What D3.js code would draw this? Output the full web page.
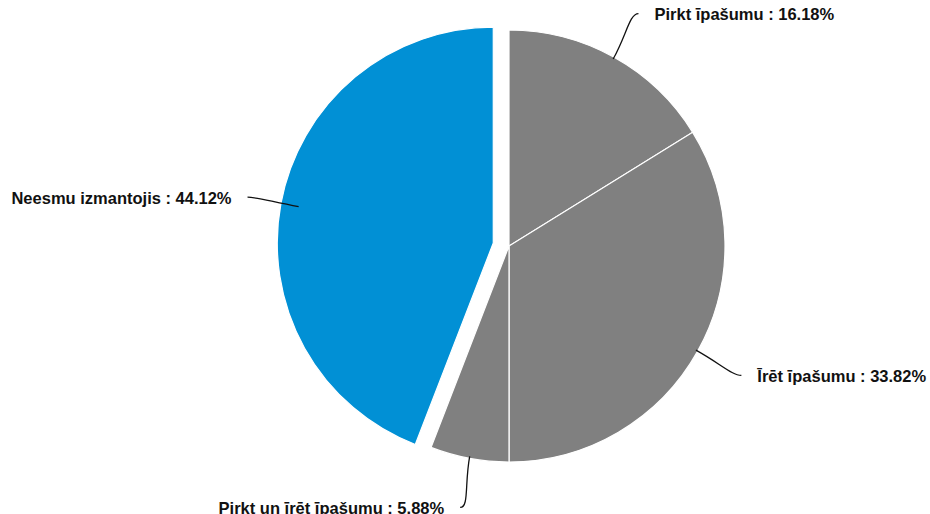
<!DOCTYPE html>
<html>
<head>
<meta charset="utf-8">
<script src="https://cdn.jsdelivr.net/npm/d3@7"></script>
<style>
  html, body { margin: 0; padding: 0; background: #fff; }
  svg { display: block; }
  .lbl { font-family: "Liberation Sans", Arial, sans-serif; font-weight: bold; font-size: 16.5px; fill: #111; }
</style>
</head>
<body>
<svg id="chart" width="930" height="514"></svg>
<script>
const categories = ["Pirkt īpašumu", "Īrēt īpašumu", "Pirkt un īrēt īpašumu", "Neesmu izmantojis"];
const shares = [16.18, 33.82, 5.88, 44.12];
const colors = ["#808080", "#808080", "#808080", "#0190d5"];
const exploded = [false, false, false, true];

const W = 930, H = 514;
const cx = 509, cy = 246, R = 216;
const explodeBy = 16;

const svg = d3.select("#chart");
const g = svg.append("g").attr("transform", `translate(${cx},${cy})`);

const data = categories.map((c, i) => ({ name: c, value: shares[i], color: colors[i], out: exploded[i] }));

const pie = d3.pie().value(d => d.value).sort(null);
const arcs = pie(data);
const arc = d3.arc().innerRadius(0).outerRadius(R);

// polar helper: angle measured clockwise from 12 o'clock
const pt = (a, r) => [Math.sin(a) * r, -Math.cos(a) * r];

g.selectAll("path.slice")
  .data(arcs)
  .join("path")
  .attr("class", "slice")
  .attr("d", arc)
  .attr("fill", d => d.data.color)
  .attr("stroke", "#fff")
  .attr("stroke-width", 1.2)
  .attr("transform", d => {
    if (!d.data.out) return null;
    const m = (d.startAngle + d.endAngle) / 2;
    const [dx, dy] = pt(m, explodeBy);
    return `translate(${dx},${dy})`;
  });

// leader lines and labels
const gap = 16;
arcs.forEach(d => {
  const m = (d.startAngle + d.endAngle) / 2;
  const side = Math.sin(m) >= 0 ? 1 : -1;
  const p0 = pt(m, R - 2);
  const c1 = pt(m, R + 26);
  const p2 = pt(m, 266);
  const c2 = [p2[0] - side * 9, p2[1]];
  const path = d3.path();
  path.moveTo(p0[0], p0[1]);
  path.bezierCurveTo(c1[0], c1[1], c2[0], c2[1], p2[0], p2[1]);
  g.append("path")
    .attr("d", path.toString())
    .attr("fill", "none")
    .attr("stroke", "#111")
    .attr("stroke-width", 1.3);
  g.append("text")
    .attr("class", "lbl")
    .attr("x", p2[0] + side * gap)
    .attr("y", p2[1] + 2)
    .attr("dominant-baseline", "middle")
    .attr("text-anchor", side > 0 ? "start" : "end")
    .text(`${d.data.name} : ${d.data.value.toFixed(2)}%`);
});
</script>
</body>
</html>
